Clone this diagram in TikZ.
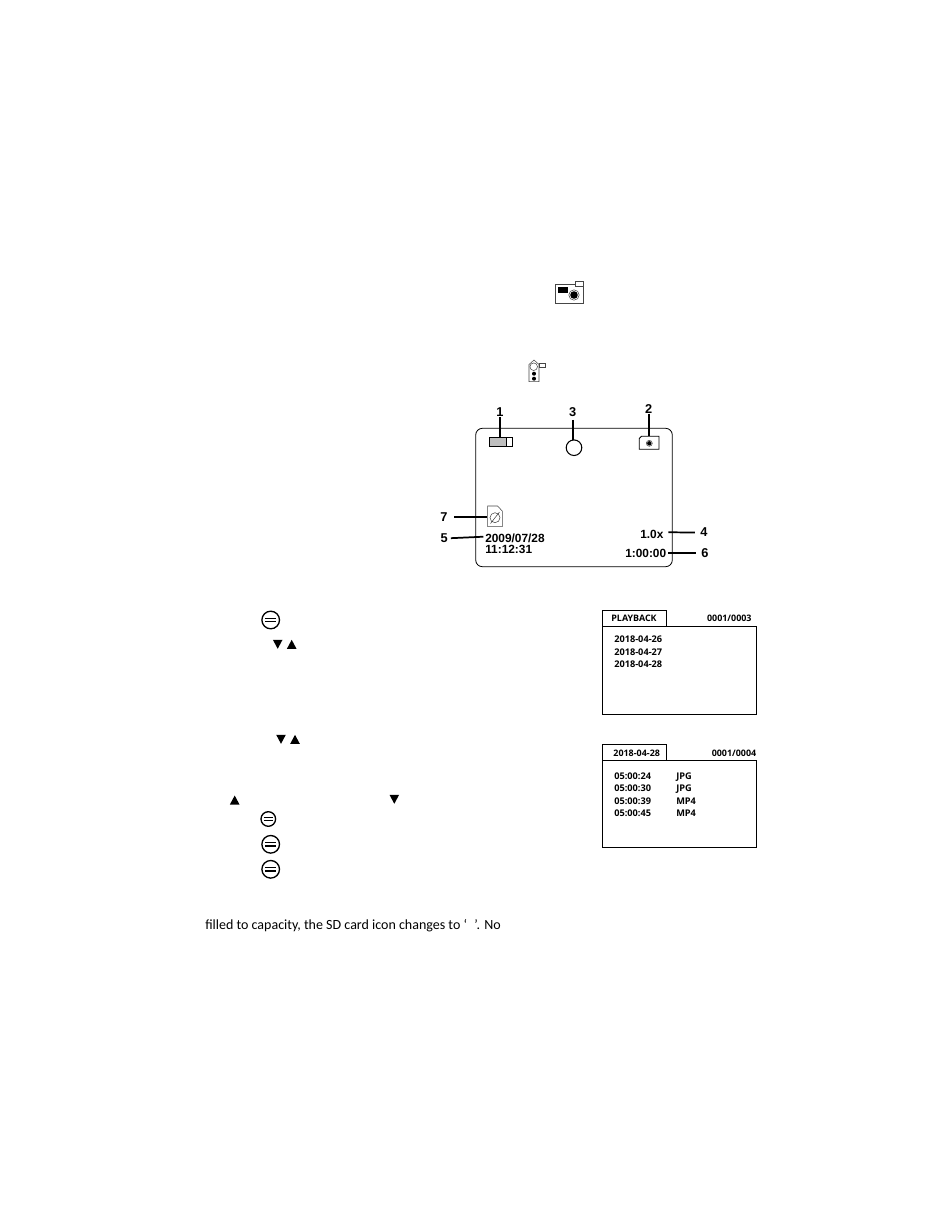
\documentclass[tikz,border=0pt]{standalone}
\usepackage{fontspec}
\setmainfont{Carlito}
\newfontfamily\labelfont{Liberation Sans}
\newfontfamily\menufont{Open Sans}
\tikzset{
  leader/.style={line width=1.3pt,line cap=butt},
  thinline/.style={line width=0.6pt},
  iconline/.style={line width=0.4pt,color={rgb, 255:red, 70; green, 70; blue, 70 }},
  callout/.style={font=\labelfont\bfseries\fontsize{9.6}{10}\selectfont,inner sep=0pt,text=black},
  osd/.style={font=\labelfont\bfseries\fontsize{8.9}{10}\selectfont,inner sep=0pt,text height=6.4pt,text depth=0pt,anchor=west},
  menutext/.style={font=\menufont\bfseries\fontsize{6.7}{8}\selectfont,inner sep=0pt,text height=5pt,text depth=0.4pt},
  menurow/.style={font=\menufont\bfseries\fontsize{6.9}{8}\selectfont,inner sep=0pt,text height=5pt,text depth=0.4pt,anchor=west},
  bodytext/.style={font=\fontsize{10.5}{12}\selectfont,inner sep=0pt,anchor=west},
}
\newcommand{\okbutton}[3]{%
  \draw [line width=1pt] (#1,#2) circle (#3);
  \draw [line width=1.1pt] (#1-#3*0.62,#2-1.7) -- (#1+#3*0.62,#2-1.7) (#1-#3*0.62,#2+1.7) -- (#1+#3*0.62,#2+1.7);
}
\newcommand{\trianglup}[2]{\fill (#1-4.8,#2+4.5) -- (#1+4.8,#2+4.5) -- (#1,#2-4.5) -- cycle;}
\newcommand{\triangldown}[2]{\fill (#1-4.8,#2-4.5) -- (#1+4.8,#2-4.5) -- (#1,#2+4.5) -- cycle;}
\begin{document}
\begin{tikzpicture}[x=0.75pt,y=0.75pt,yscale=-1,xscale=1]
\useasboundingbox (0,0) rectangle (950,1229);

% camera mode icon
\draw [iconline] (555,284) rectangle (583.7,303.3);
\draw [iconline,fill=white] (575.3,281.7) rectangle (583.7,286);
\fill (558.3,286.7) rectangle (567.7,292.7);
\draw [iconline] (574,295) circle (5.2);
\fill (574,295) circle (3.8);

% video mode icon
\draw [iconline] (529,381.7) -- (529,364.5) -- (534,360) -- (539,364.5) -- (539,381.7) -- cycle;
\draw [iconline,fill=white] (533.7,366.7) circle (3.8);
\draw [iconline] (539.3,363.3) rectangle (545.7,367.7);
\fill (534,373.7) circle (2);
\fill (534,378.7) circle (2);

% preview screen
\draw [thinline,rounded corners=5] (475.7,428.3) rectangle (672.3,566.7);
\draw [thinline,fill={rgb, 255:red, 190; green, 190; blue, 190 }] (489.3,437) rectangle (506.3,446.7);
\draw [thinline] (506.3,437) rectangle (512.3,446.7);
\draw [line width=0.8pt] (574,447.7) circle (7.8);
\draw [thinline] (639.3,449.3) -- (639.3,438.5) -- (641.5,436.3) -- (659,436.3) -- (659,449.3) -- cycle;
\draw [iconline] (649.3,443.3) circle (3);
\fill (649.3,443.3) circle (2.2);
\draw [iconline] (487.7,506) -- (497.5,506) -- (502.3,511) -- (502.3,526.7) -- (487.7,526.7) -- cycle;
\draw [iconline] (495,517.7) circle (5) (490.5,523.5) -- (499.5,512);

% screen readouts
\draw (485,538) node [osd] (datetext) {2009/07/28};
\draw (485,549) node [osd] (timetext) {11:12:31};
\draw (640,534.5) node [osd] (zoomtext) {1.0x};
\draw (625,553) node [osd] (remaintext) {1:00:00};

% callouts
\draw (500,412.5) node [callout] (num1) {1};
\draw (648.7,409) node [callout] (num2) {2};
\draw (572.7,412.5) node [callout] (num3) {3};
\draw (704,532.5) node [callout] (num4) {4};
\draw (444.3,538.3) node [callout] (num5) {5};
\draw (705,553.3) node [callout] (num6) {6};
\draw (444,516.7) node [callout] (num7) {7};

\coordinate (end1) at (500,438);
\coordinate (end2) at (648.7,436);
\coordinate (end3) at (572.7,440);
\coordinate (end4) at (668.3,532.3);
\coordinate (end5) at (483.3,536.7);
\coordinate (end6) at (668,553.3);
\coordinate (end7) at (486.7,516.7);

\draw [leader] (num1.south) -- (end1);
\draw [leader] (num2.south) -- (end2);
\draw [leader,shorten <=2] (num3.south) -- (end3);
\draw [leader,shorten <=4] (num4.west) -- (end4);
\draw [leader,shorten <=2] (num5.east) -- (end5);
\draw [leader,shorten <=4] (num6.west) -- (end6);
\draw [leader,shorten <=5] (num7.east) -- (end7);

% first menu
\draw [thinline] (602,626) rectangle (756.7,714.3);
\draw [thinline] (602,626) -- (602,610) -- (666.7,610) -- (666.7,626);
\draw (634,618.8) node [menutext] (menutitle) {PLAYBACK};
\draw (729.3,618.8) node [menutext] (menucount) {0001/0003};
\draw (614,639.8) node [menurow] (dayone) {2018-04-26};
\draw (614,652.2) node [menurow] (daytwo) {2018-04-27};
\draw (614,664.5) node [menurow] (daythree) {2018-04-28};

% second menu
\draw [thinline] (602,760) rectangle (756.7,847.3);
\draw [thinline] (602,760) -- (602,744) -- (666.7,744) -- (666.7,760);
\draw (636.7,753.2) node [menutext] (filetitle) {2018-04-28};
\draw (734,753.2) node [menutext] (filecount) {0001/0004};
\draw (614,776.2) node [menurow] (timeone) {05:00:24};
\draw (614,788.8) node [menurow] (timetwo) {05:00:30};
\draw (614,801.2) node [menurow] (timethree) {05:00:39};
\draw (614,813.2) node [menurow] (timefour) {05:00:45};
\draw (676,776.2) node [menurow] (typeone) {JPG};
\draw (676,788.8) node [menurow] (typetwo) {JPG};
\draw (676,801.2) node [menurow] (typethree) {MP4};
\draw (676,813.2) node [menurow] (typefour) {MP4};

% button glyphs
\okbutton{270.7}{620}{8.8}
\okbutton{268.3}{819}{7.3}
\okbutton{270.7}{844.3}{8.8}
\okbutton{270.7}{869.3}{8.8}
\triangldown{277.7}{644.3}
\trianglup{291.7}{644.3}
\triangldown{281}{739.3}
\trianglup{295}{739.3}
\trianglup{234.7}{800}
\triangldown{394.3}{799.3}

% leftover line of text
\draw (205,926) node [bodytext] (fullnote) {filled to capacity, the SD card icon changes to ‘\hspace{5.5pt}’. No};

\end{tikzpicture}
\end{document}
